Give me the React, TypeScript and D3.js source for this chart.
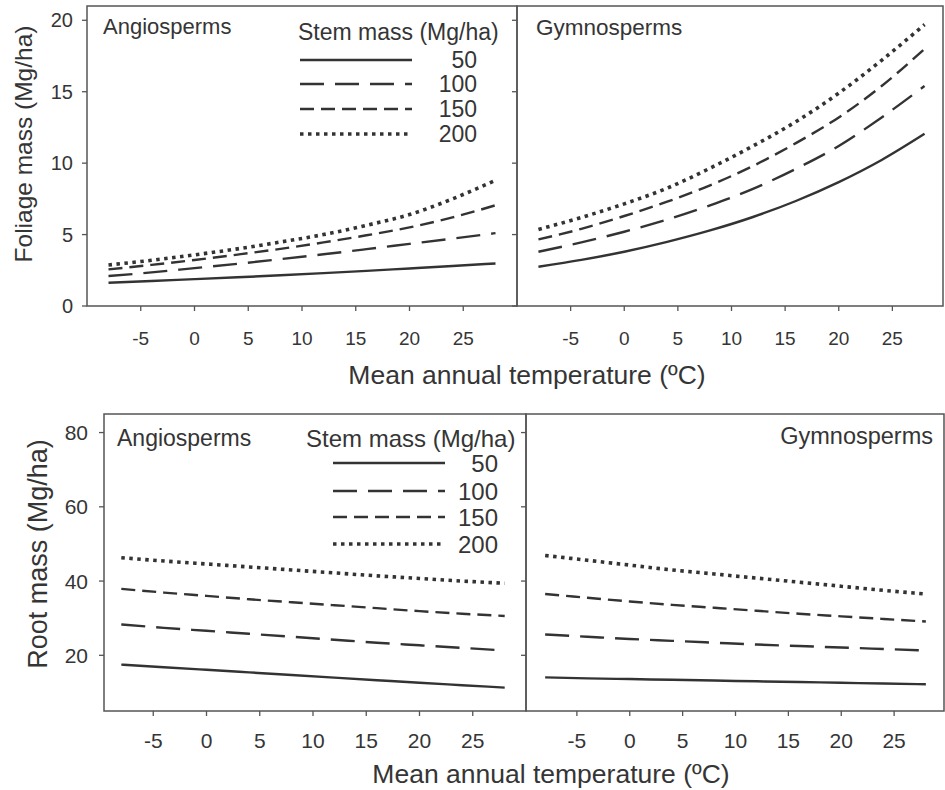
import React from "react";
import * as d3 from "d3";

const TEMPS = [-8, -4, 0, 4, 8, 12, 16, 20, 24, 28];
const STEM_MASS = ["50", "100", "150", "200"];
const X_TICKS = [-5, 0, 5, 10, 15, 20, 25];
const FOLIAGE_TICKS = [0, 5, 10, 15, 20];
const ROOT_TICKS = [20, 40, 60, 80];

// foliage mass (Mg/ha), one row per stem mass
const foliageAngio = [
  [1.63, 1.75, 1.88, 2.01, 2.15, 2.3, 2.46, 2.63, 2.8, 2.98],
  [2.1, 2.35, 2.65, 2.95, 3.28, 3.62, 3.98, 4.35, 4.72, 5.1],
  [2.56, 2.88, 3.22, 3.6, 4.0, 4.45, 4.95, 5.5, 6.2, 7.05],
  [2.87, 3.2, 3.58, 4.0, 4.48, 5.0, 5.65, 6.4, 7.5, 8.8],
];
const foliageGymno = [
  [2.75, 3.23, 3.8, 4.49, 5.29, 6.23, 7.35, 8.67, 10.22, 12.05],
  [3.8, 4.45, 5.2, 6.05, 7.05, 8.2, 9.6, 11.2, 13.2, 15.4],
  [4.66, 5.4, 6.3, 7.3, 8.45, 9.8, 11.4, 13.2, 15.4, 18.0],
  [5.36, 6.2, 7.15, 8.25, 9.65, 11.2, 12.9, 14.9, 17.2, 19.7],
];
// root mass (Mg/ha)
const rootAngio = [
  [17.5, 16.8, 16.1, 15.4, 14.7, 14.0, 13.3, 12.6, 11.95, 11.3],
  [28.3, 27.4, 26.6, 25.8, 25.0, 24.2, 23.4, 22.7, 22.0, 21.3],
  [37.9, 36.9, 36.0, 35.1, 34.3, 33.5, 32.7, 31.9, 31.2, 30.6],
  [46.3, 45.4, 44.6, 43.8, 43.0, 42.2, 41.4, 40.7, 40.0, 39.4],
];
const rootGymno = [
  [14.05, 13.8, 13.6, 13.4, 13.2, 13.0, 12.8, 12.6, 12.4, 12.2],
  [25.6, 25.0, 24.4, 23.9, 23.4, 22.9, 22.5, 22.1, 21.7, 21.3],
  [36.5, 35.5, 34.5, 33.6, 32.8, 32.0, 31.2, 30.5, 29.8, 29.1],
  [46.9, 45.6, 44.3, 43.0, 41.9, 40.8, 39.7, 38.6, 37.5, 36.5],
];

const DASHES = [undefined, "24 11", "14 7", "3.5 4.5"];
const WIDTHS = [2.4, 2.4, 2.4, 3.6];
const INK = "#353535";
const FONT = "'Liberation Sans', Arial, sans-serif";

type PanelProps = {
  frame: [number, number, number, number]; // x0, x1, y0, y1
  xRange: [number, number];
  yDomain: [number, number];
  yTicks: number[];
  showYLabels: boolean;
  yLabelX: number;
  tickFont: number;
  xLabelY: number;
  xTickFont: number;
  series: number[][];
};

const Panel = ({ frame, xRange, yDomain, yTicks, showYLabels, yLabelX, tickFont, xLabelY, xTickFont, series }: PanelProps) => {
  const [x0, x1, y0, y1] = frame;
  const x = d3.scaleLinear().domain([-10, 30]).range(xRange);
  const y = d3.scaleLinear().domain(yDomain).range([y1, y0]);
  const line = d3
    .line<number>()
    .x((_, i) => x(TEMPS[i]))
    .y((d) => y(d))
    .curve(d3.curveMonotoneX);

  return (
    <g>
      <rect x={x0} y={y0} width={x1 - x0} height={y1 - y0} fill="none" stroke="#555" strokeWidth={1.5} />
      {yTicks.map((t) => (
        <g key={t}>
          <line x1={x0 - 5} x2={x0} y1={y(t)} y2={y(t)} stroke="#555" strokeWidth={1.3} />
          {showYLabels && (
            <text x={yLabelX} y={y(t)} dy="0.36em" textAnchor="end" fontSize={tickFont} fill={INK}>
              {t}
            </text>
          )}
        </g>
      ))}
      {X_TICKS.map((t) => (
        <g key={t}>
          <line x1={x(t)} x2={x(t)} y1={y1} y2={y1 + 5} stroke="#555" strokeWidth={1.3} />
          <text x={x(t)} y={xLabelY} textAnchor="middle" fontSize={xTickFont} fill={INK}>
            {t}
          </text>
        </g>
      ))}
      {series.map((s, i) => (
        <path
          key={i}
          d={line(s) ?? ""}
          fill="none"
          stroke="#333"
          strokeWidth={WIDTHS[i]}
          strokeDasharray={DASHES[i]}
        />
      ))}
    </g>
  );
};

const Legend = ({ x, y, lineX0, lineX1, labelX, rowY, fontSize }: any) => (
  <g fontSize={fontSize} fill={INK}>
    <text x={x} y={y}>Stem mass (Mg/ha)</text>
    {STEM_MASS.map((m, i) => (
      <g key={m}>
        <line
          x1={lineX0}
          x2={lineX1}
          y1={rowY[i]}
          y2={rowY[i]}
          stroke="#333"
          strokeWidth={WIDTHS[i]}
          strokeDasharray={DASHES[i]}
        />
        <text x={labelX} y={rowY[i]} dy="0.36em" textAnchor="end">
          {m}
        </text>
      </g>
    ))}
  </g>
);

export default function App() {
  return (
    <svg
      width={945}
      height={790}
      style={{ position: "absolute", left: 0, top: 0, background: "#fff" }}
      fontFamily={FONT}
    >
      {/* foliage */}
      <Panel
        frame={[87, 517, 6, 306]}
        xRange={[87, 517]}
        yDomain={[0, 21]}
        yTicks={FOLIAGE_TICKS}
        showYLabels
        yLabelX={73}
        tickFont={20}
        xLabelY={345}
        xTickFont={19}
        series={foliageAngio}
      />
      <Panel
        frame={[517, 943, 6, 306]}
        xRange={[517, 946]}
        yDomain={[0, 21]}
        yTicks={FOLIAGE_TICKS}
        showYLabels={false}
        yLabelX={0}
        tickFont={20}
        xLabelY={345}
        xTickFont={19}
        series={foliageGymno}
      />
      <text x={103} y={34} fontSize={22} fill={INK}>Angiosperms</text>
      <text x={536} y={35} fontSize={22.5} fill={INK}>Gymnosperms</text>
      <Legend x={298} y={40} lineX0={300} lineX1={412} labelX={477} rowY={[60, 84, 109, 134]} fontSize={23} />
      <text
        transform="translate(23,144) rotate(-90)"
        textAnchor="middle"
        dy="0.35em"
        fontSize={24.5}
        fill={INK}
      >
        Foliage mass (Mg/ha)
      </text>
      <text x={527} y={384} textAnchor="middle" fontSize={26.5} fill={INK}>
        Mean annual temperature (ºC)
      </text>

      {/* roots */}
      <Panel
        frame={[104, 526, 414, 711]}
        xRange={[100, 526]}
        yDomain={[5, 85]}
        yTicks={ROOT_TICKS}
        showYLabels
        yLabelX={88}
        tickFont={21}
        xLabelY={748}
        xTickFont={21}
        series={rootAngio}
      />
      <Panel
        frame={[526, 944, 414, 711]}
        xRange={[524, 947]}
        yDomain={[5, 85]}
        yTicks={ROOT_TICKS}
        showYLabels={false}
        yLabelX={0}
        tickFont={21}
        xLabelY={748}
        xTickFont={21}
        series={rootGymno}
      />
      <text x={117} y={446} fontSize={23} fill={INK}>Angiosperms</text>
      <text x={933} y={444} textAnchor="end" fontSize={23.5} fill={INK}>Gymnosperms</text>
      <Legend x={306} y={447} lineX0={333} lineX1={445} labelX={498} rowY={[463, 491, 517, 544]} fontSize={24} />
      <text
        transform="translate(38,554) rotate(-90)"
        textAnchor="middle"
        dy="0.35em"
        fontSize={27}
        fill={INK}
      >
        Root mass (Mg/ha)
      </text>
      <text x={551} y={783} textAnchor="middle" fontSize={26.5} fill={INK}>
        Mean annual temperature (ºC)
      </text>
    </svg>
  );
}
